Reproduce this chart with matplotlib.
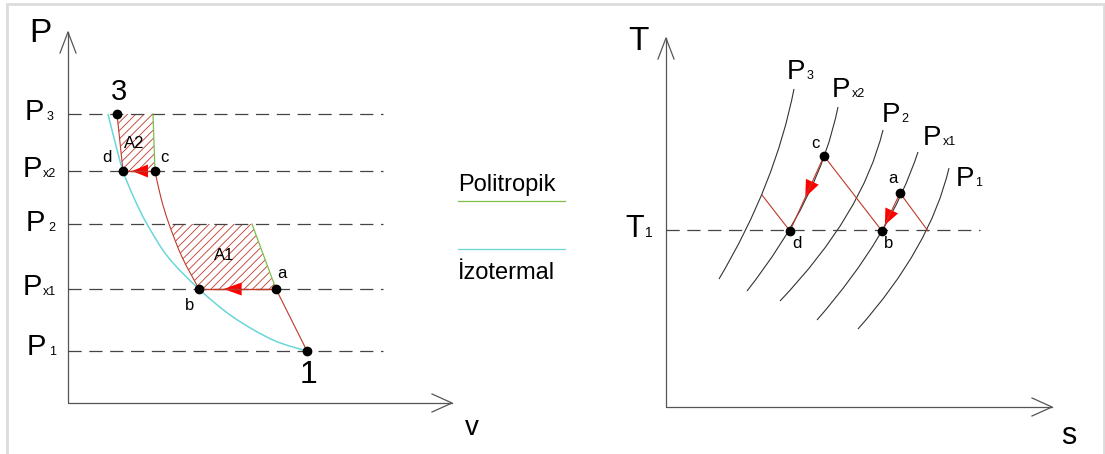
import numpy as np
import matplotlib
matplotlib.use("Agg")
import matplotlib.pyplot as plt
from matplotlib.path import Path
from matplotlib.patches import PathPatch, Polygon, FancyArrow, Rectangle

plt.rcParams["font.family"] = ["Liberation Sans", "DejaVu Sans"]
plt.rcParams["lines.scale_dashes"] = False
plt.rcParams["hatch.linewidth"] = 0.6

# ── P-v diyagramı (birim: eksen başlangıcına göre) ──────────────────────────
P_NAMES  = ["3", "x2", "2", "x1", "1"]
P_LEVELS = [28.9, 23.2, 17.9, 11.4, 5.2]

PT_NAMES = ["3", "d", "c", "b", "a", "1"]
PT_V     = [4.9, 5.5, 8.7, 13.1, 20.8, 23.9]
PT_P     = [28.9, 23.2, 23.2, 11.4, 11.4, 5.2]

ISO_V = [4.0, 4.7, 5.5, 6.6, 7.9, 10.0, 13.1, 16.5, 20.5, 23.9]   # izotermal
ISO_P = [28.9, 26.1, 23.2, 20.5, 17.9, 14.6, 11.4, 8.6, 6.3, 5.2]
CB_V  = [8.7, 9.3, 10.1, 11.4, 13.1]                                # politropik c→b
CB_P  = [23.2, 20.5, 17.9, 14.6, 11.4]
GRN_A2 = ([8.5, 8.7], [28.9, 23.2])
GRN_A1 = ([18.4, 20.8], [17.9, 11.4])

# ── T-s diyagramı ────────────────────────────────────────────────────────────
T1 = 17.7
ISOBARS = {            # alt uç, orta, üst uç
    "3":  [(5.3, 12.8), (10.0, 22.3), (12.8, 31.8)],
    "x2": [(8.1, 11.6), (14.0, 20.8), (17.2, 30.0)],
    "2":  [(11.4, 10.6), (18.1, 19.2), (21.7, 27.7)],
    "x1": [(15.1, 8.7), (21.3, 17.1), (25.2, 25.5)],
    "1":  [(19.2, 7.8), (25.1, 15.9), (28.3, 23.9)],
}
TS_NAMES = ["c", "d", "b", "a"]
TS_S     = [15.8, 12.4, 21.6, 23.4]
TS_T     = [25.1, 17.6, 17.6, 21.4]
P3_CROSS = (9.6, 21.2)
P1_CROSS = (26.2, 17.6)

RED, CYAN, GREEN, GREY = "#c0392b", "#6ad6d8", "#7cc04a", "#333333"
W, H = 1105, 454

fig = plt.figure(figsize=(W / 100, H / 100), dpi=100)
fig.add_artist(Rectangle((7 / W, -0.1), (1104 - 7) / W, 1.1 - 4 / H,
                         transform=fig.transFigure, fill=False,
                         ec="#dcdcdc", lw=2))

def panel(ox, oy):
    ax = fig.add_axes([0, 0, 1, 1], facecolor="none")
    ax.set_xlim(-ox / 10, (W - ox) / 10)
    ax.set_ylim(-(H - oy) / 10, oy / 10)
    ax.axis("off")
    return ax

def axes_arrows(ax, xmax, ymax):
    kw = dict(color="#555555", lw=0.9)
    ax.plot([0, 0, xmax], [ymax, 0, 0], **kw)
    ax.plot([-0.8, 0, 0.8], [ymax - 2.1, ymax, ymax - 2.1], **kw)
    ax.plot([xmax - 2.0, xmax, xmax - 2.0], [0.9, 0, -0.9], **kw)

def p_label(ax, x, y, sub, size=21, subsize=9, dx=2.15):
    ax.text(x, y, "P", fontsize=size, va="baseline", ha="left")
    ax.text(x + dx, y, sub, fontsize=subsize, va="baseline", ha="left")

def head(ax, p, q, t, length, width):
    """Kırmızı ok başı: p→q doğrultusunda, ucu t oranındaki noktada."""
    p, q = np.asarray(p, float), np.asarray(q, float)
    tip = p + t * (q - p)
    d = (q - p) / np.hypot(*(q - p)) * length
    ax.add_patch(FancyArrow(tip[0] - d[0], tip[1] - d[1], d[0], d[1], width=0,
                            head_width=width, head_length=length,
                            length_includes_head=True, color="red", lw=0))

def bezier(ax, pts, **kw):
    p0, pm, p2 = (np.array(p) for p in pts)
    ctrl = 2 * pm - (p0 + p2) / 2
    ax.add_patch(PathPatch(Path([p0, ctrl, p2], [Path.MOVETO, Path.CURVE3, Path.CURVE3]),
                           fill=False, **kw))

def smooth(ax, xs, ys, **kw):
    p = np.column_stack([xs, ys])
    verts, codes = [p[0]], [Path.MOVETO]
    for i in range(len(p) - 1):
        a = p[i - 1] if i > 0 else p[i]
        b = p[i + 2] if i + 2 < len(p) else p[i + 1]
        verts += [p[i] + (p[i + 1] - a) / 6, p[i + 1] - (b - p[i]) / 6, p[i + 1]]
        codes += [Path.CURVE4] * 3
    ax.add_patch(PathPatch(Path(verts, codes), fill=False, **kw))

# ── Sol panel: P-v ───────────────────────────────────────────────────────────
ax = panel(68, 403)
axes_arrows(ax, 38.4, 37.1)
for y in P_LEVELS:
    ax.plot([0, 31.5], [y, y], color="#444444", lw=0.9, dashes=(9.5, 5.5))

pt = dict(zip(PT_NAMES, zip(PT_V, PT_P)))
ax.add_patch(Polygon([pt["3"], (GRN_A2[0][0], GRN_A2[1][0]), pt["c"], pt["d"]],
                     fill=False, hatch="////", ec=RED, lw=0))
a1 = [(CB_V[i], CB_P[i]) for i in range(2, 5)] + [pt["a"], (GRN_A1[0][0], GRN_A1[1][0])]
ax.add_patch(Polygon(a1, fill=False, hatch="////", ec=RED, lw=0))

smooth(ax, ISO_V, ISO_P, ec=CYAN, lw=1.1)
smooth(ax, CB_V, CB_P, ec=RED, lw=0.8)
ax.plot([pt["3"][0], pt["d"][0]], [pt["3"][1], pt["d"][1]], color=RED, lw=0.8)
ax.plot([pt["1"][0], pt["a"][0]], [pt["1"][1], pt["a"][1]], color=RED, lw=0.8)
ax.plot([pt["d"][0], pt["c"][0]], [pt["d"][1], pt["c"][1]], color=RED, lw=1)
ax.plot([pt["b"][0], pt["a"][0]], [pt["b"][1], pt["a"][1]], color=RED, lw=1)
ax.plot(*GRN_A2, color=GREEN, lw=0.9)
ax.plot(*GRN_A1, color=GREEN, lw=0.9)
head(ax, pt["c"], pt["d"], 0.72, 1.6, 1.3)
head(ax, pt["a"], pt["b"], 0.68, 1.8, 1.3)
ax.plot(PT_V, PT_P, "o", color="black", ms=6)

ax.text(-2.8, 36.9, "P", fontsize=24, ha="center", va="center")
ax.text(40.4, -2.5, "v", fontsize=20, ha="center", va="center")
for (x, sub), y in zip([(-4.3, "3"), (-4.5, "x2"), (-4.2, "2"), (-4.5, "x1"), (-4.1, "1")],
                       [28.3, 22.6, 17.2, 10.8, 4.8]):
    p_label(ax, x, y, sub, dx=2.2 if len(sub) == 1 else 2.0)
ax.text(5.1, 31.1, "3", fontsize=21, ha="center", va="center")
ax.text(24.0, 2.8, "1", fontsize=23, ha="center", va="center")
for name, (x, y) in zip("dcab", [(3.9, 24.5), (9.6, 24.5), (21.4, 12.9), (12.2, 9.8)]):
    ax.text(x, y, name, fontsize=12, ha="center", va="center")
ax.text(6.6, 26.0, "A2", fontsize=12, ha="center", va="center")
ax.text(15.6, 14.7, "A1", fontsize=12, ha="center", va="center")

# lejant
ax.text(39.0, 21.2, "Politropik", fontsize=17, va="baseline", ha="left")
ax.plot([39.0, 49.7], [20.2, 20.2], color=GREEN, lw=0.9)
ax.plot([39.0, 49.7], [15.4, 15.4], color=CYAN, lw=0.9)
ax.text(39.0, 12.4, "İzotermal", fontsize=17, va="baseline", ha="left")

# ── Sağ panel: T-s ───────────────────────────────────────────────────────────
bx = panel(666, 407)
axes_arrows(bx, 38.6, 36.9)
bx.plot([0, 31.4], [T1, T1], color="#444444", lw=0.9, dashes=(9.5, 5.5))
for pts in ISOBARS.values():
    bezier(bx, pts, ec=GREY, lw=0.8)

tp = dict(zip(TS_NAMES, zip(TS_S, TS_T)))
for p, q in [(P3_CROSS, tp["d"]), (tp["c"], tp["b"]), (tp["a"], P1_CROSS),
             (tp["c"], tp["d"]), (tp["a"], tp["b"])]:
    bx.plot([p[0], q[0]], [p[1], q[1]], color=RED, lw=0.8)
head(bx, tp["c"], tp["d"], 0.55, 1.7, 1.4)
head(bx, tp["a"], tp["b"], 0.84, 1.6, 1.4)
bx.plot(TS_S, TS_T, "o", color="black", ms=6)

bx.text(-2.8, 36.6, "T", fontsize=24, ha="center", va="center")
bx.text(40.3, -2.9, "s", fontsize=22, ha="center", va="center")
bx.text(-4.1, 17.0, "T", fontsize=22, va="baseline", ha="left")
bx.text(-2.1, 17.0, "1", fontsize=10, va="baseline", ha="left")
for (x, y), sub in zip([(12.1, 32.8), (16.6, 31.0), (21.6, 28.5), (25.7, 26.2), (29.0, 22.1)],
                       ISOBARS.keys()):
    p_label(bx, x, y, sub, size=20, subsize=9, dx=1.95)
for name, (x, y) in zip("cadb", [(14.9, 26.4), (22.7, 22.9), (13.1, 16.4), (22.3, 16.4)]):
    bx.text(x, y, name, fontsize=12, ha="center", va="center")

fig.savefig("out.png", dpi=100)
